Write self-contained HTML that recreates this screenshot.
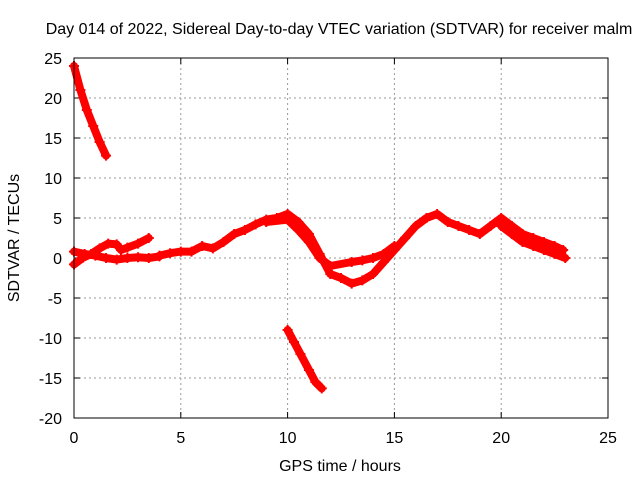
<!DOCTYPE html>
<html><head><meta charset="utf-8"><style>
body{margin:0;background:#fff}
svg{display:block;font-family:"Liberation Sans",sans-serif;font-size:16px}
</style></head><body>
<svg id="c" width="640" height="480">
<rect width="640" height="480" fill="#fff"/>
<text x="339" y="34" text-anchor="middle">Day 014 of 2022, Sidereal Day-to-day VTEC variation (SDTVAR) for receiver malm</text>
<text x="340" y="471" text-anchor="middle">GPS time / hours</text>
<text transform="translate(19,238) rotate(-90)" text-anchor="middle">SDTVAR / TECUs</text>
<g id="grid"></g><g id="marks"></g>
<rect x="74" y="58" width="534" height="360" fill="none" stroke="#000"/>
</svg>
<script>
const xTicks=[0,5,10,15,20,25];
const yTicks=[25,20,15,10,5,0,-5,-10,-15,-20];
const seg1X=[0,0.3,0.6,0.9,1.2,1.5];
const seg1Y=[24,21,18.5,16.5,14.5,12.8];
const seg2X=[10,10.3,10.6,11,11.3,11.6];
const seg2Y=[-9,-10.5,-12,-14,-15.5,-16.3];
const trkAX=[0,0.5,1,1.5,2,2.5,3,3.5,4];
const trkAY=[0.8,0.5,0.3,0,-0.2,0,0.1,0,0.2];
const trkBX=[0,0.4,0.8,1.2,1.6,2,2.2,2.5,3,3.5];
const trkBY=[-0.8,0,0.5,1.2,1.8,1.7,1,1.3,1.8,2.5];
const trkCX=[4,4.5,5,5.5,6,6.5,7,7.5,8,8.5,9,9.5,10,10.5,11,11.5,12,12.5,13,13.5,14,14.5,15,15.5,16,16.5,17,17.5,18,18.5,19,19.5,20,20.5,21,21.5,22,22.5,22.9];
const trkCY=[0.3,0.6,0.8,0.8,1.5,1.2,2,3,3.5,4.2,4.8,5,5.5,4.5,3,0.5,-2,-2.5,-3.2,-2.8,-2,-0.5,1,2.5,4,5,5.5,4.5,4,3.5,3,4,5,4,3,2.5,2,1.5,1];
const trkDX=[9,10,10.5,11,11.5,12,13,13.5,14,14.5,15];
const trkDY=[4.5,4.8,3.5,2,0,-1,-0.5,-0.3,0,0.5,1.5];
const trkEX=[20,20.5,21,21.5,22,22.5,23];
const trkEY=[4,3,2,1.5,1,0.5,0];
const X=v=>74+(v/25)*534, Y=v=>58+(25-v)*8;
const NS="http://www.w3.org/2000/svg";
const g=document.getElementById('grid'), m=document.getElementById('marks');
function mk(t,a,p){const e=document.createElementNS(NS,t);for(const k in a)e.setAttribute(k,a[k]);p.appendChild(e);return e;}
xTicks.forEach(v=>{
 if(v>0&&v<25){const l=mk('line',{x1:X(v),x2:X(v),y1:58,y2:418,stroke:'#999','stroke-dasharray':'2,3'},g);
 
 }
 mk('line',{x1:X(v),x2:X(v),y1:418,y2:412,stroke:'#000'},g);
 mk('line',{x1:X(v),x2:X(v),y1:58,y2:64,stroke:'#000'},g);
 const t=mk('text',{x:X(v),y:443,'text-anchor':'middle'},g);t.textContent=v;
 
 
});
yTicks.forEach(v=>{
 if(v>-20&&v<25){const l=mk('line',{x1:74,x2:608,y1:Y(v),y2:Y(v),stroke:'#999','stroke-dasharray':'2,3'},g);
 
 }
 mk('line',{x1:74,x2:80,y1:Y(v),y2:Y(v),stroke:'#000'},g);
 mk('line',{x1:608,x2:602,y1:Y(v),y2:Y(v),stroke:'#000'},g);
 const t=mk('text',{x:62,y:Y(v)+6,'text-anchor':'end'},g);t.textContent=v;
 
 
});
function series(xs,ys,name){
 const pts=xs.map((x,i)=>X(x)+','+Y(ys[i])).join(' ');
 const p=mk('polyline',{points:pts,fill:'none',stroke:'#f00','stroke-width':8,'stroke-linejoin':'round','stroke-linecap':'round'},m);
 
 
 xs.forEach((x,i)=>{const c=mk('path',{d:`M${X(x)-5},${Y(ys[i])}h10M${X(x)},${Y(ys[i])-5}v10`,stroke:'#f00','stroke-width':2},m);
 
 });
}
series(seg1X,seg1Y,'series-early-drop');
series(seg2X,seg2Y,'series-midday-drop');
series(trkAX,trkAY,'series-track-a');
series(trkBX,trkBY,'series-track-b');
series(trkCX,trkCY,'series-track-c');
series(trkDX,trkDY,'series-track-d');
series(trkEX,trkEY,'series-track-e');
</script>
</body></html>
